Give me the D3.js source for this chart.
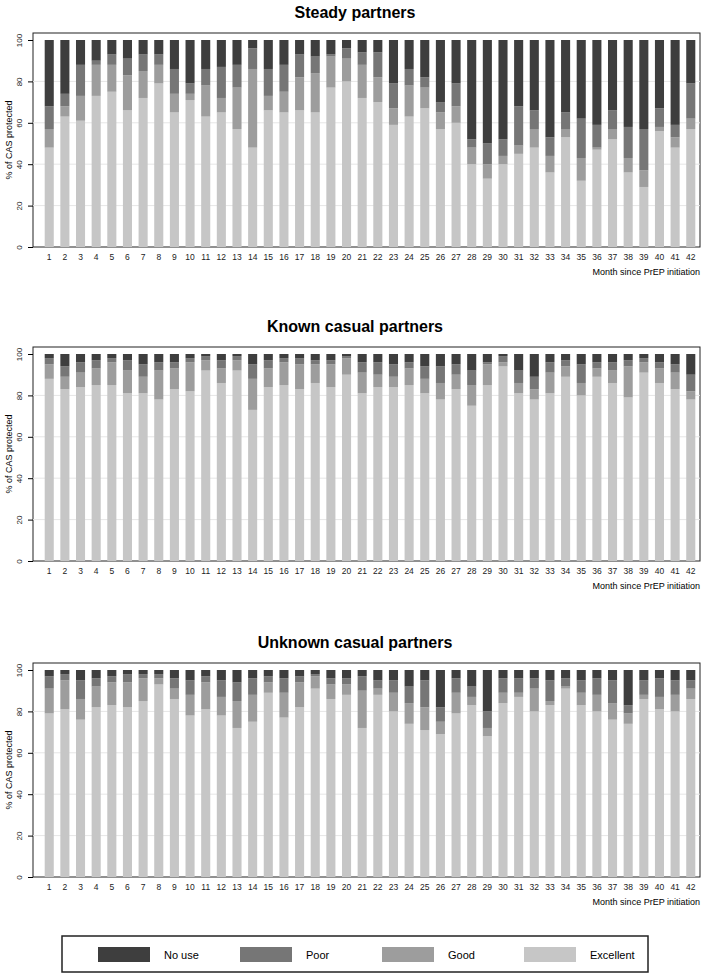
<!DOCTYPE html>
<html><head><meta charset="utf-8">
<script src="https://cdn.jsdelivr.net/npm/d3@7"></script>
<style>body{margin:0;background:#fff;font-family:"Liberation Sans",Arial,sans-serif}</style>
</head><body><svg id="c" width="709" height="977"></svg>
<script>
const months = d3.range(1, 43);
const categories = ["Excellent", "Good", "Poor", "No use"];
const colors = {"Excellent": "#c6c6c6", "Good": "#9d9d9d", "Poor": "#767676", "No use": "#3e3e3e"};
// cumulative tops: [Excellent, +Good, +Poor]; No use fills to 100
const steady = [[48,57,68],[63,68,74],[61,73,88],[73,88,90],[75,88,93],[66,83,91],[72,85,93],[79,88,93],[65,74,86],[71,74,79],[63,78,86],[65,72,87],[57,77,88],[48,86,96],[66,73,86],[65,75,88],[66,82,93],[65,84,92],[77,92,93],[80,91,96],[72,88,94],[70,82,94],[59,67,79],[63,78,86],[67,77,82],[57,65,70],[60,68,79],[40,48,52],[33,40,50],[40,44,52],[45,49,68],[48,57,66],[36,44,53],[53,57,65],[32,43,62],[47,48,59],[52,57,66],[36,43,58],[29,37,57],[56,58,67],[48,53,59],[57,62,79]];
const knownCasual = [[88,95,98],[83,89,94],[84,91,96],[85,93,97],[85,96,98],[81,92,97],[81,89,95],[78,92,96],[83,93,96],[82,96,98],[92,97,99],[86,93,97],[92,97,99],[73,88,95],[84,93,97],[85,96,98],[83,95,98],[86,95,97],[84,95,97],[90,98,99],[81,91,96],[84,90,96],[84,89,95],[85,93,96],[81,88,94],[78,86,94],[83,90,95],[75,85,92],[85,95,96],[94,96,99],[81,86,92],[78,83,89],[81,91,96],[89,94,97],[80,86,95],[89,93,96],[86,92,96],[79,94,97],[91,96,98],[86,93,96],[83,91,95],[78,82,90]];
const unknownCasual = [[79,91,97],[81,95,98],[76,86,95],[82,92,96],[83,94,97],[82,94,98],[85,96,98],[93,96,98],[86,91,96],[78,88,95],[81,94,97],[78,87,95],[72,85,94],[75,88,96],[89,94,97],[77,89,96],[82,94,97],[91,97,98],[86,93,96],[88,93,96],[72,90,97],[88,91,95],[80,89,95],[74,84,92],[71,82,95],[69,75,82],[79,89,96],[83,87,92],[68,72,80],[84,89,96],[87,89,96],[80,91,96],[83,85,95],[91,92,96],[83,89,95],[80,88,96],[76,84,95],[74,79,83],[86,88,95],[81,87,96],[80,88,95],[86,91,95]];
const yTicks = [0, 20, 40, 60, 80, 100];
const panels = [
  {title: "Steady partners", data: steady, top: 0},
  {title: "Known casual partners", data: knownCasual, top: 314},
  {title: "Unknown casual partners", data: unknownCasual, top: 630}
];

const svg = d3.select("#c");
const x = d3.scaleBand().domain(months).range([40, 700]).paddingInner(0.42).paddingOuter(0.3);

panels.forEach(p => {
  const g = svg.append("g").attr("transform", `translate(0,${p.top})`);
  const y = d3.scaleLinear().domain([0, 100]).range([247, 40]);
  g.append("text").attr("x", 355).attr("y", 18).attr("text-anchor", "middle")
    .attr("font-weight", "bold").attr("font-size", 16).text(p.title);
  g.append("rect").attr("x", 33).attr("y", 33).attr("width", 667).attr("height", 214)
    .attr("fill", "none").attr("stroke", "#222").attr("stroke-width", 1);
  g.selectAll(".grid").data(yTicks.slice(1, 5)).join("line")
    .attr("x1", 33).attr("x2", 700).attr("y1", d => y(d)).attr("y2", d => y(d))
    .attr("stroke", "#e6e6e6");
  const rows = p.data.map((v, i) => ({m: months[i], Excellent: v[0], Good: v[1] - v[0], Poor: v[2] - v[1], "No use": 100 - v[2]}));
  const stack = d3.stack().keys(categories)(rows);
  g.selectAll(".s").data(stack).join("g").attr("fill", d => colors[d.key])
    .selectAll("rect").data(d => d).join("rect")
    .attr("x", d => x(d.data.m)).attr("width", x.bandwidth())
    .attr("y", d => y(d[1])).attr("height", d => y(d[0]) - y(d[1]));
  const ya = g.append("g").attr("transform", "translate(33,0)")
    .call(d3.axisLeft(y).tickValues(yTicks).tickSize(5).tickFormat(d3.format("d")));
  ya.select(".domain").remove();
  ya.selectAll("text").attr("transform", "rotate(-90)").attr("x", 0).attr("y", -11)
    .attr("dy", 0).attr("text-anchor", "middle").attr("font-size", 8).attr("fill", "#222");
  const xa = g.append("g").attr("transform", "translate(0,247)")
    .call(d3.axisBottom(x).tickSize(0).tickPadding(7));
  xa.select(".domain").remove();
  xa.selectAll("text").attr("font-size", 8.5).attr("fill", "#222");
  g.append("text").attr("transform", "translate(12,140) rotate(-90)").attr("text-anchor", "middle")
    .attr("font-size", 9).text("% of CAS protected");
  g.append("text").attr("x", 700).attr("y", 275).attr("text-anchor", "end")
    .attr("font-size", 9).text("Month since PrEP initiation");
});

const legendItems = ["No use", "Poor", "Good", "Excellent"];
const lg = svg.append("g");
lg.append("rect").attr("x", 62).attr("y", 936).attr("width", 586).attr("height", 36)
  .attr("fill", "none").attr("stroke", "#222").attr("stroke-width", 1.5);
const lx = d3.scalePoint().domain(legendItems).range([98, 524]);
const li = lg.selectAll(".li").data(legendItems).join("g").attr("transform", d => `translate(${lx(d)},947)`);
li.append("rect").attr("width", 52).attr("height", 15).attr("fill", d => colors[d]);
li.append("text").attr("x", 66).attr("y", 12).attr("font-size", 11).text(d => d);
</script></body></html>
